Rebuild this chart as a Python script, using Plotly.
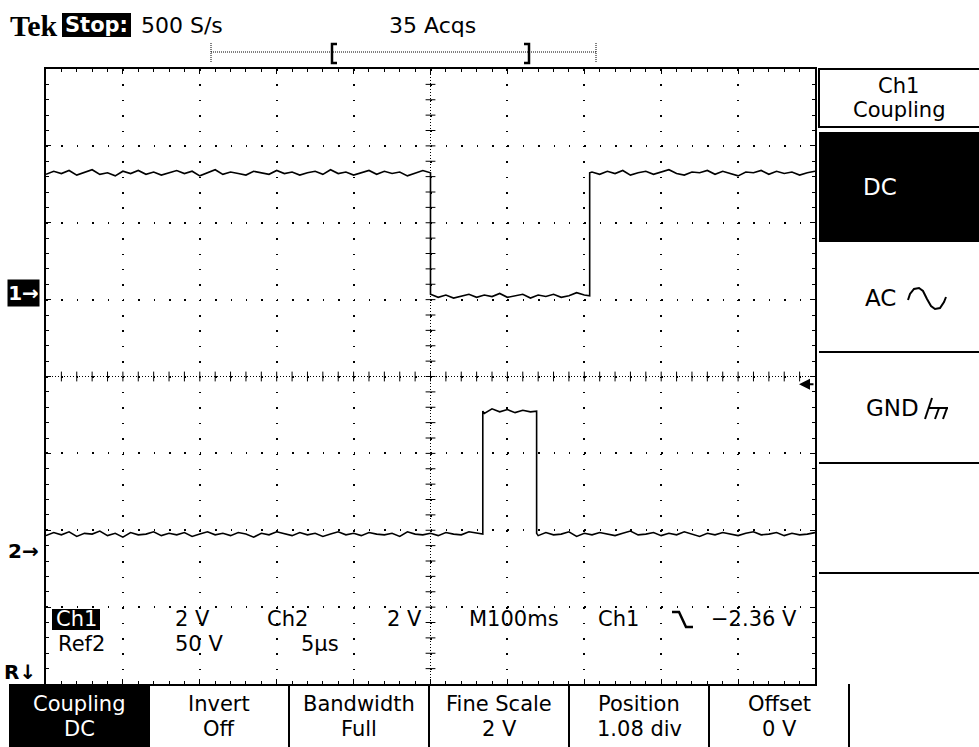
import plotly.graph_objects as go

time_per_div_ms = 100
ch1_volts_per_div = 2.0
ch2_volts_per_div = 2.0
ch1_position_div = 1.08
ch2_position_div = -2.27
trigger_level_v = -2.36

# Ch1: high until 500 ms, low until 707 ms, high again
ch1_t = (list(range(0, 510, 10)) + list(range(500, 710, 10)) + [707]
         + [707] + list(range(710, 1010, 10)))
ch1_high_a = [3.10, 3.18, 3.12, 3.20, 3.08, 3.16, 3.22, 3.10, 3.14, 3.06,
              3.18, 3.12, 3.20, 3.10, 3.16, 3.08, 3.14, 3.20, 3.12, 3.18,
              3.06, 3.14, 3.22, 3.10, 3.16, 3.12, 3.08, 3.18, 3.14, 3.10,
              3.20, 3.12, 3.16, 3.08, 3.14, 3.18, 3.10, 3.22, 3.12, 3.16,
              3.08, 3.14, 3.20, 3.10, 3.18, 3.12, 3.16, 3.06, 3.14, 3.20,
              3.14]
ch1_low = [-0.02, -0.10, -0.04, -0.12, -0.06, -0.02, -0.10, -0.04, -0.08, 0.00,
           -0.10, -0.06, -0.02, -0.12, -0.04, -0.08, -0.02, -0.10, -0.06, 0.02,
           -0.04, -0.06]
ch1_high_b = [3.14,
              3.16, 3.10, 3.18, 3.12, 3.20, 3.08, 3.14, 3.18, 3.10, 3.16,
              3.22, 3.12, 3.08, 3.16, 3.14, 3.20, 3.10, 3.18, 3.12, 3.06,
              3.16, 3.14, 3.20, 3.10, 3.18, 3.12, 3.16, 3.08, 3.14, 3.18]
ch1_v = ch1_high_a + ch1_low + ch1_high_b

# Ch2: low, pulse high 568-638 ms, low again
ch2_t = (list(range(0, 570, 10)) + [568] + [568] + list(range(570, 640, 10))
         + [638] + [638] + list(range(640, 1010, 10)))
ch2_low_a = [0.40, 0.48, 0.42, 0.50, 0.38, 0.46, 0.44, 0.52, 0.40, 0.46,
             0.36, 0.48, 0.42, 0.44, 0.50, 0.40, 0.46, 0.42, 0.48, 0.38,
             0.44, 0.50, 0.42, 0.46, 0.40, 0.48, 0.44, 0.36, 0.46, 0.42,
             0.50, 0.44, 0.40, 0.48, 0.42, 0.46, 0.38, 0.44, 0.50, 0.42,
             0.46, 0.40, 0.48, 0.44, 0.42, 0.46, 0.38, 0.50, 0.44, 0.42,
             0.46, 0.40, 0.48, 0.44, 0.42, 0.50, 0.46, 0.44]
ch2_high = [3.64, 3.58, 3.70, 3.62, 3.68, 3.60, 3.66, 3.62, 3.64]
ch2_low_b = [0.46, 0.40, 0.48, 0.42, 0.44, 0.50, 0.38, 0.46, 0.42, 0.48,
             0.44, 0.40, 0.46, 0.52, 0.42, 0.44, 0.48, 0.40, 0.46, 0.42,
             0.50, 0.44, 0.38, 0.46, 0.42, 0.48, 0.44, 0.40, 0.46, 0.50,
             0.42, 0.44, 0.48, 0.40, 0.46, 0.42, 0.44, 0.48]
ch2_v = ch2_low_a + ch2_high + ch2_low_b

assert len(ch1_t) == len(ch1_v)
assert len(ch2_t) == len(ch2_v)

header_texts = ["Tek", "Stop:", "500 S/s", "35 Acqs"]
side_menu_title = ["Ch1", "Coupling"]
side_menu_items = ["DC", "AC", "GND"]
bottom_menu = [("Coupling", "DC"), ("Invert", "Off"), ("Bandwidth", "Full"),
               ("Fine Scale", "2 V"), ("Position", "1.08 div"), ("Offset", "0 V")]
readout_row1 = [("2 V", 174), ("Ch2", 266), ("2 V", 386), ("M100ms", 468),
                ("Ch1", 597), ("−2.36 V", 710)]
readout_row2 = [("Ref2", 57), ("50 V", 174), ("5µs", 300)]

# ---------------- geometry helpers (pixels -> paper) ----------------
W, H = 979, 747
L, R, T, B = 46, 815, 69, 684
FONT = "DejaVu Sans"


def px(x):
    return (x - L) / (R - L)


def py(y):
    return (B - y) / (B - T)


n_xdiv, n_ydiv = 10, 8
x_range = [0, n_xdiv * time_per_div_ms]
y_range = [-n_ydiv / 2, n_ydiv / 2]
ch1_range = [ch1_volts_per_div * (-n_ydiv / 2 - ch1_position_div),
             ch1_volts_per_div * (n_ydiv / 2 - ch1_position_div)]
ch2_range = [ch2_volts_per_div * (-n_ydiv / 2 - ch2_position_div),
             ch2_volts_per_div * (n_ydiv / 2 - ch2_position_div)]

fig = go.Figure()

# centre cross-hair tick marks (graticule, every 1/5 division)
minor_x = [i * time_per_div_ms / 5 for i in range(1, n_xdiv * 5)]
minor_y = [-n_ydiv / 2 + i * 0.2 for i in range(1, n_ydiv * 5)]
fig.add_trace(go.Scatter(x=minor_x, y=[0] * len(minor_x), mode="markers",
                         marker=dict(symbol="line-ns", size=7,
                                     line=dict(color="black", width=1)),
                         xaxis="x", yaxis="y", hoverinfo="skip"))
fig.add_trace(go.Scatter(x=[x_range[1] / 2] * len(minor_y), y=minor_y,
                         mode="markers",
                         marker=dict(symbol="line-ew", size=7,
                                     line=dict(color="black", width=1)),
                         xaxis="x", yaxis="y", hoverinfo="skip"))

trace_line = dict(color="black", width=1.6)
fig.add_trace(go.Scatter(x=ch1_t, y=ch1_v, mode="lines", line=trace_line,
                         xaxis="x", yaxis="y2", hoverinfo="skip"))
fig.add_trace(go.Scatter(x=ch2_t, y=ch2_v, mode="lines", line=trace_line,
                         xaxis="x", yaxis="y3", hoverinfo="skip"))

grid_period = (R - L) / (n_xdiv * 5)
dash = f"1.5px,{grid_period - 1.5:.2f}px"

common_axis = dict(showgrid=True, gridcolor="black", gridwidth=1.5,
                   griddash=dash, showline=True, linecolor="black",
                   linewidth=2, mirror="ticks", ticks="inside", ticklen=5,
                   tickcolor="black", tickwidth=1, showticklabels=False,
                   zeroline=False, fixedrange=True)

fig.update_layout(
    width=W, height=H,
    margin=dict(l=L, r=W - R, t=T, b=H - B, pad=0),
    paper_bgcolor="white", plot_bgcolor="white", showlegend=False,
    font=dict(family=FONT, color="black"),
    xaxis=dict(range=x_range, dtick=time_per_div_ms, tick0=0,
               minor=dict(dtick=time_per_div_ms / 5, ticks="inside",
                          ticklen=3, tickcolor="black", showgrid=False),
               **common_axis),
    yaxis=dict(range=y_range, dtick=1, tick0=0,
               minor=dict(dtick=0.2, ticks="inside", ticklen=3,
                          tickcolor="black", showgrid=False),
               **common_axis),
    yaxis2=dict(range=ch1_range, overlaying="y", visible=False, fixedrange=True),
    yaxis3=dict(range=ch2_range, overlaying="y", visible=False, fixedrange=True),
)

shapes = []
# centre cross-hair (dense dots)
shapes.append(dict(type="line", xref="x", yref="paper", x0=x_range[1] / 2,
                   x1=x_range[1] / 2, y0=0, y1=1, layer="below",
                   line=dict(color="black", width=1, dash="1px,2px")))
shapes.append(dict(type="line", xref="paper", yref="y", x0=0, x1=1, y0=0,
                   y1=0, layer="below",
                   line=dict(color="black", width=1, dash="1px,2px")))


def rect(x0, y0, x1, y1, fill=None, lw=2):
    shapes.append(dict(type="rect", xref="paper", yref="paper",
                       x0=px(x0), x1=px(x1), y0=py(y1), y1=py(y0),
                       fillcolor=fill if fill else "rgba(0,0,0,0)",
                       line=dict(color="black", width=lw if lw else 0)))


def hline(x0, x1, y, lw=2, dash=None):
    shapes.append(dict(type="line", xref="paper", yref="paper",
                       x0=px(x0), x1=px(x1), y0=py(y), y1=py(y),
                       line=dict(color="black", width=lw, dash=dash or "solid")))


def vline(x, y0, y1, lw=2, dash=None):
    shapes.append(dict(type="line", xref="paper", yref="paper",
                       x0=px(x), x1=px(x), y0=py(y0), y1=py(y1),
                       line=dict(color="black", width=lw, dash=dash or "solid")))


def path(points, lw=2):
    d = "M " + " L ".join(f"{px(x):.5f},{py(y):.5f}" for x, y in points)
    shapes.append(dict(type="path", xref="paper", yref="paper", path=d,
                       line=dict(color="black", width=lw)))


# header: record-length bar
hline(211, 596, 52, lw=1, dash="1px,1px")
vline(211, 43, 63, lw=1, dash="1px,1px")
vline(596, 43, 63, lw=1, dash="1px,1px")
path([(337, 44), (332, 44), (332, 63), (337, 63)], lw=2.5)
path([(524, 44), (529, 44), (529, 63), (524, 63)], lw=2.5)
rect(62, 13, 131, 37, fill="black", lw=0)

# right-hand menu
rect(819, 69, 990, 127, lw=2)
rect(819, 132, 990, 242, fill="black", lw=0)
for yy in [352, 463, 573]:
    hline(819, 990, yy, lw=2)

# AC sine-wave glyph
path([(908, 300), (910, 294), (914, 289), (919, 288), (923, 291),
      (927, 299), (931, 306), (935, 309), (940, 308), (944, 302),
      (946, 297)], lw=2)
# ground glyph next to GND (slanted)
path([(932, 398), (925, 419)], lw=2)
path([(929, 408), (948, 408)], lw=2)
path([(939, 408), (935, 419)], lw=2)
path([(947, 408), (943, 419)], lw=2)

# bottom menu
rect(9, 684, 150, 760, fill="black", lw=0)
for xx in [289, 429, 569, 709, 849]:
    vline(xx, 684, 760, lw=2)

# readout boxes and trigger-slope symbol
rect(52, 609, 100, 630, fill="black", lw=0)
path([(672, 612), (679, 612), (686, 627), (693, 627)], lw=2.5)

fig.update_layout(shapes=shapes)

ann = []


def text(t, x, y, size=22, color="black", anchor="center", family=FONT,
         bold=False):
    ann.append(dict(text=f"<b>{t}</b>" if bold else t, xref="paper",
                    yref="paper", x=px(x), y=py(y), xanchor=anchor,
                    yanchor="middle", showarrow=False, borderpad=0,
                    font=dict(size=size, color=color, family=family)))


# header
text(header_texts[0], 9, 25, size=30, anchor="left",
     family="Liberation Serif", bold=True)
text(header_texts[1], 96, 25, size=21, color="white", bold=True)
text(header_texts[2], 140, 25, size=22, anchor="left")
text(header_texts[3], 388, 25, size=22, anchor="left")

# right-hand menu
text(side_menu_title[0], 899, 86, size=21)
text(side_menu_title[1], 899, 110, size=21)
text(side_menu_items[0], 880, 187, size=23, color="white")
text(side_menu_items[1], 880, 298, size=23)
text(side_menu_items[2], 892, 408, size=23)

# bottom menu
centres = [79, 219, 359, 499, 639, 779]
for (top, bot), cx in zip(bottom_menu, centres):
    col = "white" if cx == centres[0] else "black"
    text(top, cx, 704, size=21, color=col)
    text(bot, cx, 729, size=21, color=col)

# readouts
text("Ch1", 76, 619, size=21, color="white")
for t, x in readout_row1:
    text(t, x, 619, size=21, anchor="left")
for t, x in readout_row2:
    text(t, x, 644, size=21, anchor="left")

# channel ground markers (tied to each channel's own scale)
ann.append(dict(text="<b>1→</b>", xref="paper", yref="y2", x=px(23), y=0,
                xanchor="center", yanchor="middle", showarrow=False,
                bgcolor="black", width=29, height=24,
                font=dict(size=20, color="white", family=FONT)))
ann.append(dict(text="<b>2→</b>", xref="paper", yref="y3", x=px(23), y=0,
                xanchor="center", yanchor="middle", showarrow=False,
                font=dict(size=20, color="black", family=FONT)))
text("<b>R↓</b>", 20, 672, size=20)

# trigger level marker
ann.append(dict(text="", xref="paper", yref="y2", x=px(799),
                y=trigger_level_v, ax=16, ay=0, showarrow=True, arrowhead=2,
                arrowsize=1.1, arrowwidth=2, arrowcolor="black"))

fig.update_layout(annotations=ann)

fig.write_html("out.html")
